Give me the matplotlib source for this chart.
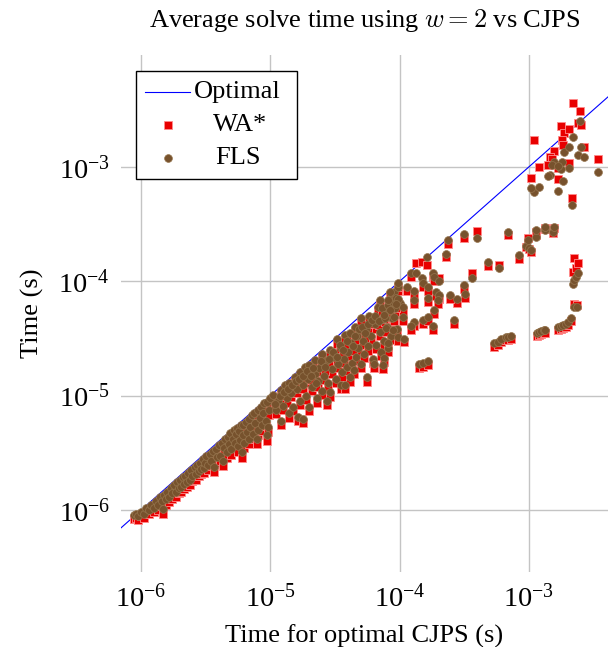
import numpy as np
import matplotlib
matplotlib.use("Agg")
import matplotlib.pyplot as plt
from matplotlib.lines import Line2D
from matplotlib.patches import Rectangle

plt.rcParams['font.family'] = ['Liberation Serif', 'DejaVu Serif']
plt.rcParams['mathtext.fontset'] = 'cm'

# ---------------- data (all times in microseconds) ----------------
# group A: tight band, 0.9 - 3 us
cjps_a = [0.88, 0.92, 0.95, 1.00, 1.05, 1.10, 1.15, 1.20, 1.25, 1.30, 1.35, 1.40, 1.45, 1.48, 1.50,
          1.55, 1.60, 1.65, 1.70, 1.75, 1.80, 1.85, 1.90, 1.95, 2.00, 2.05, 2.10, 2.15, 2.20, 2.25,
          2.30, 2.40, 2.45, 2.50, 2.60, 2.65, 2.70, 2.80, 2.85, 2.90, 3.00, 3.05, 3.10]
fls_a = [0.90, 0.93, 0.88, 0.97, 0.93, 1.05, 1.00, 1.10, 1.05, 1.20, 1.10, 1.30, 1.20, 1.02, 1.35,
         1.25, 1.45, 1.30, 1.55, 1.40, 1.65, 1.45, 1.75, 1.55, 1.85, 1.60, 1.95, 1.70, 2.00, 1.75,
         2.10, 1.85, 2.25, 2.00, 2.40, 2.05, 2.50, 2.20, 2.60, 2.30, 2.80, 2.35, 2.60]
wa_a = [0.84, 0.86, 0.82, 0.89, 0.86, 0.96, 0.92, 1.00, 0.96, 1.08, 1.00, 1.18, 1.08, 0.92, 1.22,
        1.12, 1.30, 1.17, 1.39, 1.26, 1.48, 1.30, 1.57, 1.40, 1.66, 1.44, 1.75, 1.53, 1.80, 1.58,
        1.89, 1.67, 2.02, 1.80, 2.15, 1.85, 2.25, 1.98, 2.34, 2.07, 2.52, 2.12, 2.34]

# group B: 3 - 10 us
cjps_b = [3.2, 3.3, 3.4, 3.5, 3.6, 3.7, 3.8, 3.9, 4.0, 4.1, 4.2, 4.3, 4.4, 4.5, 4.6, 4.7, 4.8, 4.9,
          5.0, 5.1, 5.2, 5.3, 5.4, 5.5, 5.6, 5.7, 5.8, 5.9, 6.0, 6.1, 6.2, 6.3, 6.5, 6.6, 6.8, 6.9,
          7.0, 7.2, 7.3, 7.5, 7.6, 7.9, 8.0, 8.1, 8.3, 8.5, 8.6, 8.8, 9.0, 9.2, 9.5, 9.5, 9.6, 9.8, 10.0]
fls_b = [3.0, 2.5, 3.1, 2.7, 3.3, 2.4, 3.4, 2.9, 3.7, 3.0, 3.9, 2.7, 3.5, 4.2, 3.2, 4.4, 3.8, 4.7,
         3.4, 4.2, 5.0, 3.9, 4.6, 5.2, 3.6, 4.9, 4.1, 5.5, 3.2, 4.5, 5.6, 3.9, 5.9, 4.8, 6.2, 4.2,
         5.3, 6.8, 4.6, 7.0, 5.8, 4.2, 7.5, 5.0, 6.4, 8.0, 5.5, 7.0, 8.6, 6.0, 4.5, 8.8, 5.3, 7.5, 9.6]
wa_b = [2.7, 2.25, 2.8, 2.45, 2.95, 2.15, 3.05, 2.6, 3.3, 2.7, 3.5, 2.45, 3.15, 3.8, 2.85, 4.0, 3.4, 4.2,
        3.05, 3.8, 4.5, 3.5, 4.15, 4.7, 3.25, 4.4, 3.7, 4.95, 2.85, 4.05, 5.05, 3.5, 5.3, 4.3, 5.6, 3.8,
        4.8, 6.1, 4.15, 6.3, 5.2, 3.8, 6.75, 4.5, 5.75, 7.2, 4.95, 6.3, 7.75, 5.4, 4.05, 7.9, 4.8, 6.75, 8.6]

# group C: 10 - 100 us
cjps_c = [10.5, 11, 11.5, 12, 12, 12.5, 13, 13.5, 14, 14, 14.5, 15, 15.5, 16, 16.5, 17, 17, 18, 18, 18.5,
          19, 19.5, 20, 20, 21, 22, 22, 23, 23.5, 24, 25, 25, 26, 27, 27.5, 28, 29, 29, 30, 31,
          32, 33, 33.5, 35, 35, 36, 37, 38, 38, 39, 40, 41, 42, 43, 44, 45, 46, 47, 48, 50,
          50, 52, 53, 55, 56, 57, 58, 60, 62, 63, 64, 66, 68, 70, 71, 72, 74, 76, 78, 80,
          82, 84, 86, 88, 90, 92, 95, 98, 100]
fls_c = [10.2, 7.5, 9.0, 11.3, 6.0, 8.2, 12.5, 9.5, 7.0, 13.0, 10.5, 8.0, 14.5, 11.5, 6.5, 9.0, 16.0, 6.3, 12.5, 17.8,
         10.0, 14.0, 8.0, 18.5, 12.0, 15.5, 20.5, 9.5, 13.5, 17.5, 11.0, 23.0, 15.0, 20.0, 9.0, 13.0, 10.7, 25.0, 17.0, 22.0,
         14.0, 31.0, 19.0, 12.4, 26.0, 16.0, 21.0, 12.4, 34.0, 18.0, 24.0, 14.5, 29.0, 19.5, 16.7, 40.0, 22.0, 33.0, 26.0, 19.0,
         48.0, 30.0, 23.0, 38.0, 14.5, 27.0, 50.0, 33.0, 21.0, 19.0, 42.0, 28.0, 60.0, 36.0, 68.0, 24.0, 47.0, 30.0, 55.0, 40.0,
         26.0, 70.0, 33.0, 48.0, 80.0, 58.0, 38.0, 90.0, 65.0]
wa_c = [9.4, 6.9, 8.3, 10.4, 5.5, 7.5, 11.5, 8.7, 6.4, 12.0, 9.7, 7.4, 13.3, 10.6, 6.0, 8.3, 14.7, 5.8, 11.5, 16.4,
        9.2, 12.9, 7.4, 17.0, 11.0, 14.3, 18.9, 8.7, 12.4, 16.1, 10.1, 21.2, 13.8, 18.4, 8.3, 12.0, 9.8, 23.0, 15.6, 20.2,
        12.9, 28.5, 17.5, 11.4, 23.9, 14.7, 19.3, 11.4, 31.3, 16.6, 22.1, 13.3, 26.7, 17.9, 15.4, 36.8, 20.2, 30.4, 23.9, 17.5,
        44.2, 27.6, 21.2, 35.0, 13.3, 24.8, 46.0, 30.4, 19.3, 17.5, 38.6, 25.8, 55.2, 33.1, 62.6, 22.1, 43.2, 27.6, 50.6, 36.8,
        23.9, 64.4, 30.4, 44.2, 73.6, 53.4, 35.0, 82.8, 59.8]

cjps_c2 = [10.8, 11.8, 12.8, 13.8, 14.8, 15.8, 16.8, 17.8, 19.2, 20.5, 21.5, 22.5, 24.5, 26.5, 28.5, 30.5, 32.5,
           34.5, 36.5, 39.5, 41.5, 43.5, 45.5, 48.5, 51, 54, 57, 61, 65, 69, 73, 77, 81, 85, 89, 93, 97]
fls_c2 = [8.5, 10.0, 10.8, 11.5, 12.5, 13.5, 14.0, 15.0, 16.5, 15.0, 17.5, 13.0, 20.0, 18.0, 21.0, 24.0, 22.0,
          28.0, 25.0, 30.0, 35.0, 27.0, 33.0, 38.0, 40.0, 35.0, 42.0, 46.0, 50.0, 45.0, 58.0, 48.0, 62.0, 56.0, 66.0, 72.0, 70.0]
wa_c2 = [7.8, 9.2, 9.9, 10.6, 11.5, 12.4, 12.9, 13.8, 15.2, 13.8, 16.1, 12.0, 18.4, 16.6, 19.3, 22.1, 20.2,
         25.8, 23.0, 27.6, 32.2, 24.8, 30.4, 35.0, 36.8, 32.2, 38.6, 42.3, 46.0, 41.4, 53.4, 44.2, 57.0, 51.5, 60.7, 66.2, 64.4]

# group D: 70 - 850 us
cjps_d = [85, 98, 122, 134, 149, 163, 180, 184, 201, 115, 128.5, 151, 165, 190, 201, 165, 197, 128.5,
          105.5, 93, 80.7, 75.2, 89.8, 105.5, 77.9, 88.3, 96.4, 80.7, 75.2, 73.8, 128.5, 121.7, 150.8,
          164.8, 183.6, 180.3, 107.4, 140.3, 150.8, 164.8, 262, 277, 244, 313, 318, 227, 236, 313, 395,
          481, 585, 361, 688, 836]
wa_d = [74, 90, 110, 143.6, 146.5, 138, 108, 100, 106, 82, 76, 89, 82, 74, 70, 66, 63, 63,
        55, 58, 63, 47, 45, 45, 36, 34.5, 30, 26.7, 19.7, 17.1, 40.5, 37.3, 42.3,
        44.9, 51.6, 37.3, 29.2, 17.4, 17.8, 18.5, 42.2, 64.4, 69.8, 85, 71, 162, 211, 240, 273,
        137, 140, 117.5, 255, 156]
fls_d = [80, 96, 117.5, 117.5, 106, 162, 117.5, 108.4, 100, 88.7, 81.8, 96.1, 88.7, 80.2, 75.5, 71.1, 68.2, 68.2,
         59.3, 63, 68.2, 50.5, 48.5, 48.5, 38.9, 37.3, 32.4, 28.8, 21.3, 18.5, 43.8, 40.3, 45.7,
         48.5, 55.8, 40.3, 31.6, 18.8, 19.2, 20.0, 45.6, 69.6, 75.5, 92.3, 77, 172, 228, 257, 238,
         148, 130, 106, 268, 169]

# group E: the slow instances, > 500 us
cjps_e = [2193, 2485, 1771, 1868, 2043, 2399, 2531, 1094, 1803, 1840, 1575, 1455, 1510, 2669, 3427, 2043,
          1196, 1403, 1037, 1679, 2154, 1679,
          948, 1000, 1037, 981, 1133, 1133, 1535, 1330, 1563, 1330,
          2193, 2233, 2312, 2399, 2233, 2355,
          536, 575, 607, 663, 690, 725,
          1150, 1196, 1250, 1307, 1330,
          1679, 1760, 1836, 1920, 2006, 2118]
wa_e = [3589, 3054, 2258, 1965, 2127, 2399, 2301, 1702, 1702, 1541, 1365, 1210, 1163, 1479, 1163, 1074,
        990, 1031, 794, 778, 531, 985,
        200, 190, 182, 238, 252, 270, 262, 285, 290, 290,
        120, 159, 132, 144, 63, 62,
        26.6, 27.5, 29.2, 30.5, 30.8, 31.1,
        33.1, 33.7, 34.4, 35.1, 35.1,
        37.2, 38.0, 38.8, 40.0, 41.3, 44.6]
fls_e = [1811, 2496, 951, 1338, 1479, 1259, 1479, 598, 1094, 747, 1094, 843, 1031, 1210, 895, 970,
         662, 826, 649, 611, 461, 1010,
         205, 195, 187, 230, 245, 279, 268, 279, 296, 296,
         94, 102, 108, 117.5, 59.3, 59.3,
         28.8, 29.3, 31.1, 32.4, 32.8, 33.1,
         35.2, 35.9, 36.6, 37.3, 37.3,
         39.6, 40.5, 41.3, 42.5, 43.9, 47.5]

US = 1e-6
cjps = np.concatenate([cjps_a, cjps_b, cjps_c, cjps_c2, cjps_d, cjps_e]) * US
wa = np.concatenate([wa_a, wa_b, wa_c, wa_c2, wa_d, wa_e]) * US
fls = np.concatenate([fls_a, fls_b, fls_c, fls_c2, fls_d, fls_e]) * US

x_lim = (7.0e-7, 4.09e-3)
y_lim = (2.88e-7, 9.5e-3)
x_ticks = [1e-6, 1e-5, 1e-4, 1e-3]
y_ticks = [1e-6, 1e-5, 1e-4, 1e-3]

# ---------------- figure ----------------
W, H = 616, 647
fig = plt.figure(figsize=(W / 100, H / 100), dpi=100)
ax = fig.add_axes([121 / W, 1 - 572 / H, (608 - 121) / W, (572 - 55) / H])
ax.set_xscale('log')
ax.set_yscale('log')

red = '#e80000'
brown = '#77522d'

ax.plot(x_lim, x_lim, color='#0000ff', lw=0.8, zorder=2)
ax.scatter(cjps, wa, marker='s', s=27, c=red, edgecolors='#ff8c8c', linewidths=0.6, zorder=3)
ax.scatter(cjps, fls, marker='o', s=32, c=brown, edgecolors='#96764f', linewidths=0.5, zorder=4)

ax.set_xlim(*x_lim)
ax.set_ylim(*y_lim)
ax.set_xticks(x_ticks)
ax.set_yticks(y_ticks)
ax.minorticks_off()
ax.tick_params(length=0, labelsize=20.5)
ax.tick_params(axis='x', pad=9)
ax.tick_params(axis='y', pad=8)
ax.grid(True, color='#c4c4c4', lw=1.0, zorder=0)
ax.set_axisbelow(True)
for s in ax.spines.values():
    s.set_visible(False)

ax.set_xlabel('Time for optimal CJPS (s)', fontsize=19, labelpad=8)
ax.set_ylabel('Time (s)', fontsize=19, labelpad=10)
ax.set_title('Average solve time using $w = 2$ vs CJPS', fontsize=19, pad=20)

# ---------------- legend (pgfplots style, centred entries) ----------------
def fx(px):
    return px / W

def fy(py):
    return 1 - py / H

fig.add_artist(Rectangle((fx(136), fy(179)), fx(297) - fx(136), fy(71) - fy(179),
                         transform=fig.transFigure, facecolor='white', edgecolor='black',
                         lw=1.0, zorder=10))
fig.add_artist(Line2D([fx(145), fx(190)], [fy(92), fy(92)], transform=fig.transFigure,
                      color='#0000ff', lw=0.8, zorder=11))
fig.add_artist(Line2D([fx(168)], [fy(125)], transform=fig.transFigure, marker='s', ms=5.2,
                      mfc=red, mec='#ff8c8c', mew=0.6, ls='none', zorder=11))
fig.add_artist(Line2D([fx(168)], [fy(158)], transform=fig.transFigure, marker='o', ms=5.6,
                      mfc=brown, mec='#96764f', mew=0.5, ls='none', zorder=11))
legend_labels = ['Optimal', 'WA*', 'FLS']
for lab, cx, cy in zip(legend_labels, [237, 240, 238], [92, 125, 158]):
    fig.text(fx(cx), fy(cy), lab, ha='center', va='center', fontsize=19, zorder=12)

fig.savefig('out.png', dpi=100)
